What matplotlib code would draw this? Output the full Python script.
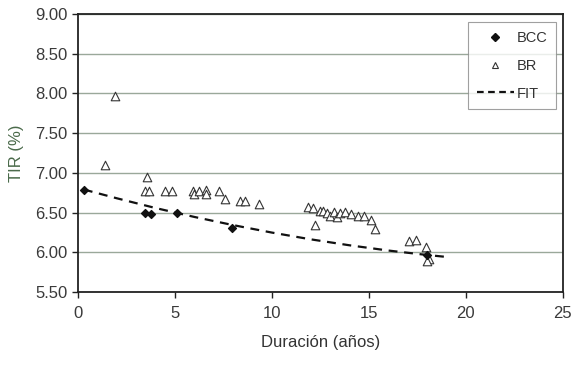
import matplotlib
matplotlib.use("Agg")
import matplotlib.pyplot as plt
from matplotlib.lines import Line2D

plt.rcParams['font.family'] = ['Liberation Sans Narrow', 'Liberation Sans', 'DejaVu Sans']

bcc_x = [0.31, 3.45, 3.75, 5.09, 7.95, 18.0]
bcc_y = [6.78, 6.50, 6.48, 6.49, 6.30, 5.96]

br_x = [1.37, 1.92, 3.57, 3.45, 3.66, 4.47, 4.86, 5.95, 5.98, 6.25, 6.58, 6.62,
        7.27, 7.56, 8.37, 8.61, 9.31, 11.84, 12.10, 12.22, 12.50, 12.65, 12.82,
        12.99, 13.21, 13.37, 13.50, 13.78, 14.09, 14.42, 14.74, 15.10, 15.29,
        17.08, 17.42, 17.92, 18.10, 17.97]
br_y = [7.10, 7.97, 6.95, 6.775, 6.775, 6.775, 6.775, 6.775, 6.73, 6.77, 6.78, 6.74,
        6.77, 6.67, 6.64, 6.64, 6.61, 6.57, 6.56, 6.34, 6.52, 6.52, 6.50,
        6.46, 6.51, 6.44, 6.49, 6.51, 6.48, 6.46, 6.46, 6.41, 6.29,
        6.14, 6.15, 6.07, 5.91, 5.89]

fit_x = [0.3, 2, 4, 6, 8, 10, 12, 14, 16, 18, 19.1]
fit_y = [6.79, 6.68, 6.557, 6.445, 6.342, 6.248, 6.163, 6.088, 6.022, 5.966, 5.939]

xticks = [0, 5, 10, 15, 20, 25]
yticks = [5.5, 6.0, 6.5, 7.0, 7.5, 8.0, 8.5, 9.0]

fig = plt.figure(figsize=(5.72, 3.66), dpi=100)
ax = fig.add_axes([0.1364, 0.2022, 0.8476, 0.7595])

ax.set_xlim(0, 25)
ax.set_ylim(5.5, 9.0)
ax.set_yticks(yticks)
ax.set_yticklabels([f"{v:.2f}" for v in yticks])
ax.set_xticks(xticks)
ax.grid(axis='y', color='#9aa89a', linewidth=1.0)
ax.set_axisbelow(True)
for s in ax.spines.values():
    s.set_color('#222222')
    s.set_linewidth(1.3)

ax.tick_params(axis='both', colors='#222222', labelcolor='#3a3a3a', labelsize=12,
               direction='out', length=4, width=1)
ax.tick_params(axis='x', pad=6)

ax.plot(fit_x, fit_y, linestyle=(0, (4, 3)), color='#111111', linewidth=1.6, zorder=2)
ax.scatter(br_x, br_y, marker='^', s=38, facecolors='white', edgecolors='#333333',
           linewidths=0.8, zorder=3)
ax.scatter(bcc_x, bcc_y, marker='D', s=16, color='#111111', zorder=4)

ax.set_xlabel('Duración (años)', fontsize=12, color='#333333', labelpad=10)
ax.set_ylabel('TIR (%)', fontsize=12, color='#4a6a4a', labelpad=8)

handles = [
    Line2D([], [], marker='D', linestyle='none', color='#111111', markersize=4),
    Line2D([], [], marker='^', linestyle='none', markerfacecolor='white',
           markeredgecolor='#333333', markersize=5, markeredgewidth=0.8),
    Line2D([], [], linestyle=(0, (3, 2)), color='#111111', linewidth=1.6),
]
leg = ax.legend(handles, ['BCC', 'BR', 'FIT'], loc='upper right',
                bbox_to_anchor=(0.986, 0.971), fontsize=10.5, frameon=True,
                fancybox=False, edgecolor='#888888', labelspacing=0.95,
                handlelength=2.5, borderpad=0.6, handletextpad=0.2,
                borderaxespad=0.0)
leg.get_frame().set_linewidth(0.8)
for t in leg.get_texts():
    t.set_color('#333333')

fig.savefig('out.png', dpi=100)
